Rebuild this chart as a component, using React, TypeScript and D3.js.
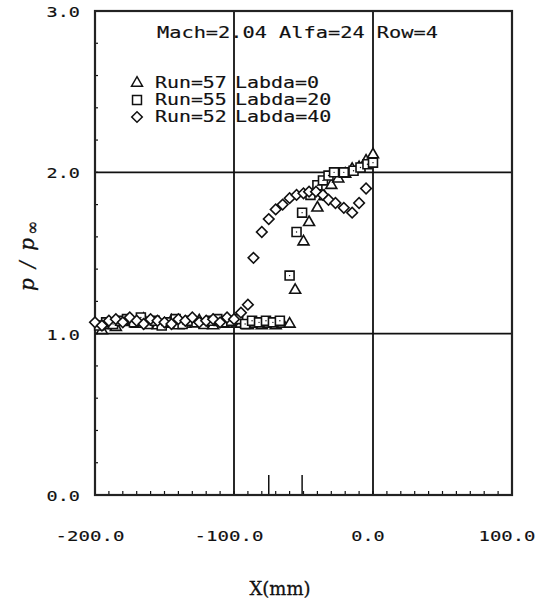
import React from "react";
import * as d3 from "d3";

const W = 544;
const H = 608;

const xTicks = [-200, -100, 0, 100];
const yTicks = [0, 1, 2, 3];
const xGrid = [-100, 0];
const yGrid = [1, 2];
const tapMarks = [-75, -51];

const titleText = "Mach=2.04 Alfa=24 Row=4";
const runLabels = ["Run=57", "Run=55", "Run=52"];
const labdaLabels = ["Labda=0", "Labda=20", "Labda=40"];
const symbolKinds = ["triangle", "square", "diamond"];

// Run 57, Labda = 0 (triangles)
const run57X = [-195, -190, -185, -180, -175, -170, -165, -160, -155, -150, -145, -140, -135, -130, -125, -120, -115, -110, -105, -100, -95, -90, -85, -80, -75, -70, -65, -60, -56, -50, -46, -40, -35, -30, -25, -20, -15, -10, -5, 0];
const run57Y = [1.02, 1.05, 1.04, 1.07, 1.08, 1.06, 1.09, 1.07, 1.05, 1.06, 1.08, 1.05, 1.06, 1.07, 1.08, 1.06, 1.05, 1.07, 1.06, 1.07, 1.06, 1.05, 1.06, 1.05, 1.06, 1.05, 1.06, 1.06, 1.27, 1.57, 1.69, 1.78, 1.85, 1.92, 1.96, 1.99, 2.02, 2.03, 2.07, 2.11];

// Run 55, Labda = 20 (squares)
const run55X = [-197, -192, -187, -182, -177, -172, -167, -162, -157, -152, -147, -142, -137, -132, -127, -122, -117, -112, -107, -102, -97, -92, -87, -82, -77, -72, -67, -60, -55, -51, -45, -40, -36, -32, -28, -21, -14, -9, -4, 0];
const run55Y = [1.05, 1.07, 1.06, 1.08, 1.09, 1.07, 1.10, 1.06, 1.08, 1.05, 1.07, 1.09, 1.06, 1.08, 1.07, 1.06, 1.08, 1.09, 1.07, 1.08, 1.09, 1.06, 1.08, 1.07, 1.08, 1.07, 1.08, 1.36, 1.63, 1.75, 1.86, 1.92, 1.95, 1.98, 2.0, 2.0, 2.01, 2.03, 2.05, 2.06];

// Run 52, Labda = 40 (diamonds)
const run52X = [-200, -195, -190, -185, -180, -175, -170, -165, -160, -155, -150, -145, -140, -135, -130, -125, -120, -115, -110, -105, -100, -95, -90, -86, -80, -75, -70, -65, -60, -55, -50, -46, -41, -36, -32, -27, -21, -15, -10, -5];
const run52Y = [1.07, 1.05, 1.08, 1.09, 1.07, 1.10, 1.08, 1.06, 1.09, 1.08, 1.07, 1.06, 1.09, 1.08, 1.10, 1.07, 1.08, 1.09, 1.07, 1.10, 1.09, 1.13, 1.18, 1.47, 1.63, 1.71, 1.77, 1.80, 1.84, 1.86, 1.87, 1.88, 1.88, 1.86, 1.83, 1.81, 1.78, 1.75, 1.81, 1.90];

const seriesX = [run57X, run55X, run52X];
const seriesY = [run57Y, run55Y, run52Y];

const INK = "#111";
const MONO = "'DejaVu Sans Mono', monospace";
const CHAR_W = 12.3;

function PlotText(props: { x: number; y: number; text: string; anchor?: string; size?: number; cw?: number }) {
  const cw = props.cw ?? CHAR_W;
  const len = props.text.length * cw - 2;
  return (
    <text
      x={props.x}
      y={props.y}
      textAnchor={props.anchor ?? "start"}
      fontFamily={MONO}
      fontSize={props.size ?? 15}
      textLength={len}
      lengthAdjust="spacingAndGlyphs"
      fill={INK}
      stroke={INK}
      strokeWidth={0.15}
    >
      {props.text}
    </text>
  );
}

export default function App() {
  const x = d3.scaleLinear().domain([-200, 100]).range([95, 512]);
  const y = d3.scaleLinear().domain([0, 3]).range([495, 11]);
  const minorX = d3.range(-190, 100, 10);
  const minorY = d3.range(0.2, 3, 0.2);

  const sym = (kind: string) => {
    if (kind === "triangle") return d3.symbol(d3.symbolTriangle, 52)() as string;
    if (kind === "square") return d3.symbol(d3.symbolSquare, 80)() as string;
    return d3.symbol(d3.symbolSquare, 56)() as string;
  };
  const rot = (kind: string) => (kind === "diamond" ? " rotate(45)" : "");

  const legendY = [87, 104, 121];

  return (
    <svg
      width={W}
      height={H}
      style={{ position: "absolute", left: 0, top: 0, background: "#fff" }}
    >
      {/* grid */}
      {xGrid.map((v) => (
        <line key={"gx" + v} x1={x(v)} x2={x(v)} y1={y(3)} y2={y(0)} stroke={INK} strokeWidth={1.8} />
      ))}
      {yGrid.map((v) => (
        <line key={"gy" + v} x1={x(-200)} x2={x(100)} y1={y(v)} y2={y(v)} stroke={INK} strokeWidth={1.8} />
      ))}
      {/* minor ticks */}
      {minorX.map((v) => (
        <line key={"mx" + v} x1={x(v)} x2={x(v)} y1={y(0)} y2={y(0) - 4} stroke={INK} strokeWidth={1.2} />
      ))}
      {minorY.map((v) => (
        <line key={"my" + v} x1={x(-200)} x2={x(-200) + 3} y1={y(v)} y2={y(v)} stroke={INK} strokeWidth={1.2} />
      ))}
      {tapMarks.map((v) => (
        <line key={"tm" + v} x1={x(v)} x2={x(v)} y1={y(0)} y2={y(0) - 20} stroke={INK} strokeWidth={1.5} />
      ))}
      {/* frame */}
      <rect x={x(-200)} y={y(3)} width={x(100) - x(-200)} height={y(0) - y(3)} fill="none" stroke="#222" strokeWidth={2.2} />

      {/* data */}
      {seriesX.map((xs, si) =>
        xs.map((xv, i) => (
          <g key={"p" + si + "-" + i} transform={`translate(${x(xv)},${y(seriesY[si][i])})${rot(symbolKinds[si])}`}>
            <path d={sym(symbolKinds[si])} fill="#fff" stroke={INK} strokeWidth={1.6} />
            {symbolKinds[si] === "square" ? <circle r={0.7} fill={INK} /> : null}
          </g>
        ))
      )}

      {/* title / legend */}
      <PlotText x={157} y={38} text={titleText} />
      {runLabels.map((t, i) => (
        <g key={"lg" + i}>
          <g transform={`translate(137,${legendY[i] - 4})${rot(symbolKinds[i])}`}>
            <path d={sym(symbolKinds[i])} fill="#fff" stroke={INK} strokeWidth={1.5} />
          </g>
          <PlotText x={155} y={legendY[i] + 1} text={t} />
          <PlotText x={235} y={legendY[i] + 1} text={labdaLabels[i]} />
        </g>
      ))}

      {/* y tick labels */}
      {yTicks.map((v) => (
        <PlotText key={"yt" + v} x={80} y={y(v) + 6} anchor="end" size={14} cw={11.8} text={v.toFixed(1)} />
      ))}
      {/* x tick labels */}
      {xTicks.map((v) => (
        <PlotText key={"xt" + v} x={x(v) - 5} y={541} anchor="middle" size={14} cw={11.8} text={v.toFixed(1)} />
      ))}

      {/* axis titles */}
      <text x={280} y={595} textAnchor="middle" fontFamily="'DejaVu Serif', serif" fontSize={18} fill={INK} stroke={INK} strokeWidth={0.3}>
        X(mm)
      </text>
      <text transform="translate(34,255) rotate(-90)" textAnchor="middle" fontFamily="'DejaVu Serif', serif" fontStyle="italic" fontSize={20} letterSpacing={2} fill={INK} stroke={INK} strokeWidth={0.3}>
        p / p<tspan fontSize={17} dy={4} dx={1}>∞</tspan>
      </text>
    </svg>
  );
}
